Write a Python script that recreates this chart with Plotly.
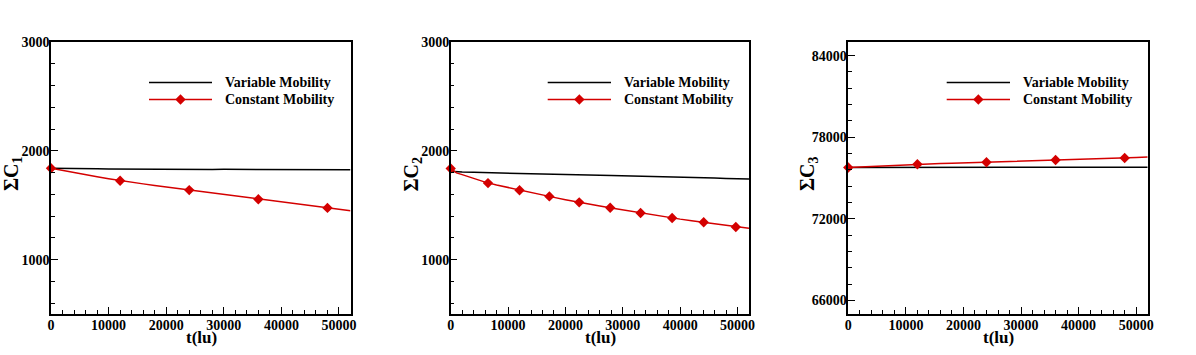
import plotly.graph_objects as go

W, H = 1196, 355

# ---------------- data ----------------
# Panel 1 (sum C1)
t1 = [0, 2000, 4000, 6000, 8000, 10000, 12000, 14000, 16000, 18000, 20000, 22000, 24000,
      26000, 28000, 30000, 32000, 34000, 36000, 38000, 40000, 42000, 44000, 46000, 48000,
      50000, 52000]
var1 = [1840, 1837, 1836, 1835, 1834, 1833, 1832, 1832, 1831, 1830, 1830, 1831, 1830, 1829,
        1829, 1830, 1829, 1828, 1827, 1829, 1828, 1827, 1826, 1828, 1826, 1825, 1826]
con1 = [1840, 1819, 1799, 1780, 1761, 1743, 1725, 1710, 1696, 1681, 1667, 1653, 1639, 1625,
        1611, 1597, 1582, 1568, 1554, 1541, 1528, 1514, 1501, 1488, 1475, 1462, 1450]
t1_mk = [0, 12000, 24000, 36000, 48000]
con1_mk = [1840, 1725, 1639, 1554, 1475]

# Panel 2 (sum C2)
t2 = [0, 1000, 2000, 4000, 6000, 8000, 10000, 12000, 14000, 16000, 18000, 20000, 22000, 24000,
      26000, 28000, 30000, 32000, 34000, 36000, 38000, 40000, 42000, 44000, 46000, 48000,
      50000, 52000]
var2 = [1812, 1807, 1805, 1802, 1799, 1796, 1793, 1790, 1788, 1786, 1784, 1781, 1779, 1777,
        1775, 1773, 1771, 1769, 1767, 1765, 1762, 1759, 1756, 1753, 1750, 1746, 1743, 1741]
con2 = [1838, 1797, 1781, 1746, 1712, 1686, 1662, 1638, 1616, 1594, 1572, 1551, 1530, 1512,
        1493, 1475, 1457, 1438, 1421, 1404, 1387, 1372, 1358, 1344, 1329, 1313, 1298, 1287]
t2_mk = [0, 6500, 12000, 17200, 22400, 27800, 33100, 38600, 44100, 49700]
con2_mk = [1838, 1703, 1638, 1581, 1526, 1477, 1428, 1382, 1343, 1300]

# Panel 3 (sum C3)
t3 = t1
var3 = [75770, 75775, 75778, 75780, 75782, 75783, 75784, 75785, 75786, 75786, 75787, 75787,
        75788, 75788, 75788, 75789, 75789, 75789, 75790, 75790, 75790, 75790, 75791, 75791,
        75791, 75791, 75792]
con3 = [75770, 75812, 75852, 75892, 75932, 75971, 76010, 76034, 76058, 76082, 76106, 76130,
        76155, 76183, 76210, 76238, 76265, 76293, 76320, 76345, 76370, 76395, 76420, 76445,
        76470, 76505, 76540]
t3_mk = [0, 12000, 24000, 36000, 48000]
con3_mk = [75770, 76010, 76155, 76320, 76470]

x_ticks = [0, 10000, 20000, 30000, 40000, 50000]
y_ticks_12 = [1000, 2000, 3000]
y_ticks_3 = [66000, 72000, 78000, 84000]

series_names = ["Variable Mobility", "Constant Mobility"]
y_titles = ["ΣC<sub>1</sub>", "ΣC<sub>2</sub>", "ΣC<sub>3</sub>"]
x_title = "t(lu)"

# ---------------- style ----------------
RED = "#d40000"
FONT = "Liberation Serif"


def fx(px):
    return px / W


def fy(py):
    return 1 - py / H


panels = [
    dict(t=t1, var=var1, con=con1, tm=t1_mk, cm=con1_mk, xd=(51, 350.5),
         yr=[500, 3000], yt=y_ticks_12, ymd=200, ym0=0, ytx=12, xtx=201,
         leg=(149, 212, 223)),
    dict(t=t2, var=var2, con=con2, tm=t2_mk, cm=con2_mk, xd=(450.7, 749),
         yr=[500, 3000], yt=y_ticks_12, ymd=200, ym0=0, ytx=411.5, xtx=600,
         leg=(547.7, 611, 622)),
    dict(t=t3, var=var3, con=con3, tm=t3_mk, cm=con3_mk, xd=(848.3, 1147.7),
         yr=[65000, 85000], yt=y_ticks_3, ymd=1200, ym0=66000, ytx=808, xtx=998,
         leg=(946.7, 1010, 1021)),
]

fig = go.Figure()
layout = dict(
    width=W, height=H,
    margin=dict(l=0, r=0, t=0, b=0),
    paper_bgcolor="white", plot_bgcolor="white",
    showlegend=False,
    template="none",
    font=dict(family=FONT, size=14, color="black"),
)
annotations = []
shapes = []

ydom = [fy(314), fy(42)]
for i, p in enumerate(panels):
    n = "" if i == 0 else str(i + 1)
    xa, ya = "x" + n, "y" + n
    fig.add_trace(go.Scatter(x=p["t"], y=p["var"], mode="lines", name=series_names[0],
                             line=dict(color="black", width=1.5), xaxis=xa, yaxis=ya))
    fig.add_trace(go.Scatter(x=p["t"], y=p["con"], mode="lines", name=series_names[1],
                             line=dict(color=RED, width=1.5), xaxis=xa, yaxis=ya))
    fig.add_trace(go.Scatter(x=p["tm"], y=p["cm"], mode="markers", name=series_names[1],
                             marker=dict(symbol="diamond", size=8, color=RED,
                                         line=dict(width=0)),
                             xaxis=xa, yaxis=ya, cliponaxis=False))
    common = dict(showgrid=False, zeroline=False, showline=True, linecolor="black",
                  linewidth=1.5, mirror=True, ticks="inside", ticklen=7, tickwidth=1,
                  tickcolor="black",
                  tickfont=dict(family=FONT, size=14, color="black", weight="bold"))
    layout["xaxis" + n] = dict(
        domain=[fx(p["xd"][0]), fx(p["xd"][1])], range=[0, 52000], anchor=ya,
        tickvals=x_ticks, ticktext=[str(v) for v in x_ticks],
        minor=dict(dtick=2000, tick0=0, ticks="inside", ticklen=4, tickcolor="black",
                   tickwidth=1, showgrid=False),
        ticklabelstandoff=-3,
        **common)
    layout["yaxis" + n] = dict(
        domain=ydom, range=p["yr"], anchor=xa,
        tickvals=p["yt"], ticktext=[str(v) for v in p["yt"]],
        minor=dict(dtick=p["ymd"], tick0=p["ym0"], ticks="inside", ticklen=4,
                   tickcolor="black", tickwidth=1, showgrid=False),
        ticklabelstandoff=-3,
        **common)
    # axis titles
    annotations.append(dict(text=y_titles[i], x=fx(p["ytx"]), y=fy(174), xref="paper",
                            yref="paper", showarrow=False, textangle=-90,
                            xanchor="center", yanchor="middle",
                            font=dict(family=FONT, size=20, color="black", weight="bold")))
    annotations.append(dict(text=x_title, x=fx(p["xtx"]), y=fy(337), xref="paper",
                            yref="paper", showarrow=False, xanchor="center",
                            yanchor="middle",
                            font=dict(family=FONT, size=17, color="black", weight="bold")))
    # legend
    lx0, lx1, tx = p["leg"]
    for row, (name, col) in enumerate(zip(series_names, ["black", RED])):
        yy = 82.5 + row * 17
        shapes.append(dict(type="line", xref="paper", yref="paper",
                           x0=fx(lx0), x1=fx(lx1), y0=fy(yy), y1=fy(yy),
                           line=dict(color=col, width=1.5)))
        if row == 1:
            shapes.append(dict(type="path", xref="paper", yref="paper",
                               xsizemode="pixel", ysizemode="pixel",
                               xanchor=fx((lx0 + lx1) / 2), yanchor=fy(yy),
                               path="M -5.2 0 L 0 5.2 L 5.2 0 L 0 -5.2 Z",
                               fillcolor=RED, line=dict(width=0)))
        annotations.append(dict(text=name, x=fx(tx), y=fy(yy), xref="paper",
                                yref="paper", showarrow=False, xanchor="left",
                                yanchor="middle",
                                font=dict(family=FONT, size=14, color="black",
                                          weight="bold")))

layout["annotations"] = annotations
layout["shapes"] = shapes
fig.update_layout(**layout)
fig.write_html("out.html",
               config={"displayModeBar": False},
               post_script="document.body.style.margin='0px';"
                           "document.body.style.overflow='hidden';")
